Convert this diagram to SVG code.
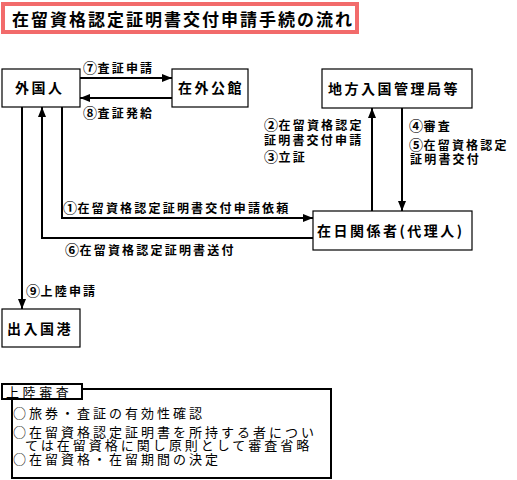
<svg xmlns="http://www.w3.org/2000/svg" width="517" height="480" viewBox="0 0 517 480">
<style>
text{font-family:"Noto Sans CJK JP","Noto Sans CJK SC",sans-serif;fill:#000}
.title{font-size:17px;font-weight:bold;letter-spacing:2px}
.node rect{fill:#fff;stroke:#000;stroke-width:1.2}
.node text{font-size:14px;font-weight:bold;letter-spacing:2.5px}
.lbl{font-size:12px;font-weight:bold;letter-spacing:2.2px}
.n{font-size:14px;letter-spacing:0.5px}
.conn{fill:none;stroke:#000;stroke-width:2}
.bx{font-size:13px;letter-spacing:3px}
.tab{font-size:13px;letter-spacing:3.6px}
</style>
<defs>
<marker id="ah" markerUnits="userSpaceOnUse" markerWidth="10" markerHeight="8" refX="10" refY="4" orient="auto">
<path d="M0,0 L10,4 L0,8 z" fill="#000"/>
</marker>
</defs>
<rect width="517" height="480" fill="#fff"/>
<g id="title">
<rect x="3" y="4" width="354" height="28" fill="#fff" stroke="#f26b6b" stroke-width="4"/>
<text class="title" x="12" y="26">在留資格認定証明書交付申請手続の流れ</text>
</g>
<g id="connectors">
<path class="conn" d="M80,78 L172,78" marker-end="url(#ah)"/>
<path class="conn" d="M172,98 L80,98" marker-end="url(#ah)"/>
<path class="conn" d="M62,107 L62,218 L313,218" marker-end="url(#ah)"/>
<path class="conn" d="M313,238 L42,238 L42,107" marker-end="url(#ah)"/>
<path class="conn" d="M22,107 L22,309" marker-end="url(#ah)"/>
<path class="conn" d="M372,211 L372,108" marker-end="url(#ah)"/>
<path class="conn" d="M402,108 L402,211" marker-end="url(#ah)"/>
<text class="lbl" x="83" y="73"><tspan class="n">⑦</tspan>査証申請</text>
<text class="lbl" x="83" y="118"><tspan class="n">⑧</tspan>査証発給</text>
<text class="lbl" x="63" y="213"><tspan class="n">①</tspan>在留資格認定証明書交付申請依頼</text>
<text class="lbl" x="65" y="255"><tspan class="n">⑥</tspan>在留資格認定証明書送付</text>
<text class="lbl" x="26" y="296"><tspan class="n">⑨</tspan>上陸申請</text>
<text class="lbl" x="264" y="130"><tspan class="n">②</tspan>在留資格認定</text>
<text class="lbl" x="264" y="145">証明書交付申請</text>
<text class="lbl" x="264" y="162"><tspan class="n">③</tspan>立証</text>
<text class="lbl" x="409" y="131"><tspan class="n">④</tspan>審査</text>
<text class="lbl" x="409" y="150"><tspan class="n">⑤</tspan>在留資格認定</text>
<text class="lbl" x="410" y="164">証明書交付</text>
</g>
<g id="n-gaikokujin" class="node">
<rect x="2" y="69" width="78" height="38"/>
<text x="15" y="93">外国人</text>
</g>
<g id="n-zaigai" class="node">
<rect x="172" y="69" width="76" height="38"/>
<text x="178" y="93">在外公館</text>
</g>
<g id="n-chiho" class="node">
<rect x="322" y="69" width="150" height="39"/>
<text x="328" y="94">地方入国管理局等</text>
</g>
<g id="n-zainichi" class="node">
<rect x="313" y="211" width="159" height="39"/>
<text x="317" y="236">在日関係者(代理人)</text>
</g>
<g id="n-shutsunyu" class="node">
<rect x="2" y="309" width="78" height="38"/>
<text x="7" y="334">出入国港</text>
</g>
<g id="joriku">
<rect x="12" y="389" width="319" height="89" fill="#fff" stroke="#000" stroke-width="2"/>
<rect x="2" y="384" width="80" height="15" fill="#fff" stroke="#000" stroke-width="2"/>
<text class="tab" x="6" y="397">上陸審査</text>
<text class="bx" x="13" y="418">○旅券・査証の有効性確認</text>
<text class="bx" x="13" y="437">○在留資格認定証明書を所持する者につい</text>
<text class="bx" x="25" y="450">ては在留資格に関し原則として審査省略</text>
<text class="bx" x="13" y="464">○在留資格・在留期間の決定</text>
</g>
</svg>
